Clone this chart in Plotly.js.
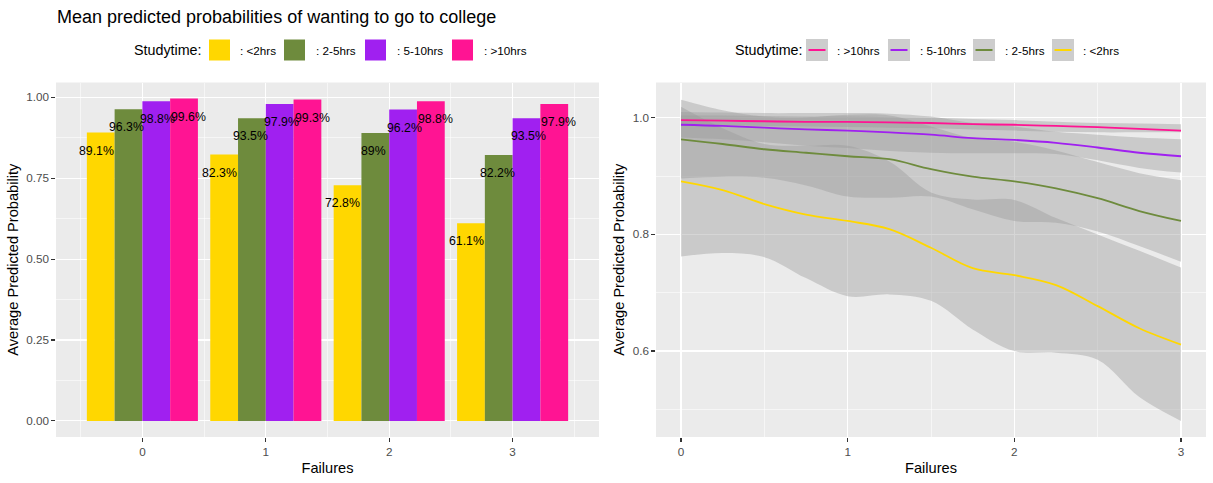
<!DOCTYPE html>
<html><head><meta charset="utf-8">
<script src="https://cdn.plot.ly/plotly-3.0.1.min.js"></script>
<style>html,body{margin:0;padding:0;background:#fff}#chart{width:1213px;height:483px}</style>
</head><body><div id="chart"></div>
<script>
// ---------------- data ----------------
const failures = [0, 1, 2, 3];
const studyNames = ['<2hrs', '2-5hrs', '5-10hrs', '>10hrs'];
const studyColors = ['#FFD700', '#6E8B3D', '#A020F0', '#FF1493'];

// mean predicted probabilities (bar panel)
const probLt2   = [0.891, 0.823, 0.728, 0.611];
const prob2to5  = [0.963, 0.935, 0.890, 0.822];
const prob5to10 = [0.988, 0.979, 0.962, 0.935];
const probGt10  = [0.996, 0.993, 0.988, 0.979];

// smoothed curves with ribbons (line panel)
const failureGrid = [0, 0.25, 0.5, 0.75, 1, 1.25, 1.5, 1.75, 2, 2.25, 2.5, 2.75, 3];
const lineLt2   = [0.891, 0.876, 0.852, 0.834, 0.823, 0.809, 0.777, 0.742, 0.730, 0.713, 0.677, 0.639, 0.611];
const lowLt2    = [0.762, 0.768, 0.761, 0.725, 0.694, 0.697, 0.686, 0.637, 0.600, 0.597, 0.585, 0.521, 0.480];
const highLt2   = [1.019, 0.982, 0.955, 0.952, 0.952, 0.925, 0.872, 0.860, 0.859, 0.828, 0.800, 0.772, 0.743];
const line2to5  = [0.963, 0.955, 0.946, 0.940, 0.934, 0.929, 0.912, 0.899, 0.891, 0.879, 0.862, 0.840, 0.823];
const low2to5   = [0.896, 0.899, 0.897, 0.884, 0.865, 0.863, 0.865, 0.843, 0.823, 0.820, 0.805, 0.780, 0.753];
const high2to5  = [1.031, 1.013, 1.002, 1.001, 1.005, 1.004, 0.985, 0.965, 0.959, 0.944, 0.924, 0.905, 0.893];
const line5to10 = [0.988, 0.986, 0.983, 0.980, 0.978, 0.975, 0.971, 0.965, 0.962, 0.957, 0.949, 0.940, 0.934];
const low5to10  = [0.966, 0.963, 0.958, 0.952, 0.948, 0.943, 0.940, 0.939, 0.939, 0.938, 0.927, 0.914, 0.906];
const high5to10 = [1.010, 1.009, 1.008, 1.008, 1.008, 1.007, 1.002, 0.991, 0.985, 0.976, 0.971, 0.966, 0.963];
const lineGt10  = [0.996, 0.995, 0.994, 0.993, 0.993, 0.992, 0.991, 0.989, 0.988, 0.986, 0.984, 0.981, 0.978];
const lowGt10   = [0.987, 0.987, 0.986, 0.985, 0.984, 0.983, 0.982, 0.980, 0.978, 0.976, 0.975, 0.975, 0.975];
const highGt10  = [1.004, 1.004, 1.003, 1.002, 1.002, 1.001, 1.000, 0.998, 0.996, 0.993, 0.991, 0.990, 0.989];

const yTicksBar = [0, 0.25, 0.5, 0.75, 1];
const yTickTextBar = ['0.00', '0.25', '0.50', '0.75', '1.00'];
const yTicksLine = [0.6, 0.8, 1.0];
const yTickTextLine = ['0.6', '0.8', '1.0'];

// ---------------- layout constants ----------------
const W = 1213, H = 483;
const FONT = 'Liberation Sans, Arial, sans-serif';
const px = x => x / W;
const py = y => 1 - y / H;
const dodgeText = [-0.375, -0.125, 0.125, 0.375];

const barSeries = [probLt2, prob2to5, prob5to10, probGt10];
const lineSeries = [
  {mid: lineLt2, lo: lowLt2, hi: highLt2},
  {mid: line2to5, lo: low2to5, hi: high2to5},
  {mid: line5to10, lo: low5to10, hi: high5to10},
  {mid: lineGt10, lo: lowGt10, hi: highGt10}
];

const traces = [];
barSeries.forEach((vals, i) => {
  traces.push({
    type: 'bar', x: failures, y: vals, name: studyNames[i],
    marker: {color: studyColors[i], line: {width: 0}},
    xaxis: 'x', yaxis: 'y', showlegend: false, hoverinfo: 'skip'
  });
});
const ribbonFill = 'rgba(153,153,153,0.4)';
lineSeries.forEach((s, i) => {
  traces.push({type: 'scatter', mode: 'lines', x: failureGrid, y: s.lo, line: {width: 0, shape: 'spline'},
    xaxis: 'x2', yaxis: 'y2', showlegend: false, hoverinfo: 'skip'});
  traces.push({type: 'scatter', mode: 'lines', x: failureGrid, y: s.hi, line: {width: 0, shape: 'spline'},
    fill: 'tonexty', fillcolor: ribbonFill, xaxis: 'x2', yaxis: 'y2', showlegend: false, hoverinfo: 'skip'});
});
lineSeries.forEach((s, i) => {
  traces.push({type: 'scatter', mode: 'lines', x: failureGrid, y: s.mid, name: studyNames[i],
    line: {color: studyColors[i], width: 1.8, shape: 'spline'},
    xaxis: 'x2', yaxis: 'y2', showlegend: false, hoverinfo: 'skip'});
});

// value labels on bars
const annotations = [];
barSeries.forEach((vals, i) => {
  vals.forEach((v, j) => {
    annotations.push({
      xref: 'x', yref: 'y', x: failures[j] + dodgeText[i], y: v,
      text: (Math.round(v * 1000) / 10) + '%', showarrow: false,
      yshift: -18, xanchor: 'center', yanchor: 'middle',
      font: {family: FONT, size: 12.3, color: '#000'}
    });
  });
});

// manual legends (ggplot style)
const shapes = [];
const legY = 50;
const leftLeg = {title: 132, keys: [209, 284, 365, 452], labels: [238, 314, 395, 482], size: 21};
annotations.push({xref: 'paper', yref: 'paper', x: px(leftLeg.title), y: py(legY), xanchor: 'left', yanchor: 'middle',
  text: 'Studytime:', showarrow: false, font: {family: FONT, size: 14.3, color: '#000'}});
studyNames.forEach((n, i) => {
  shapes.push({type: 'rect', xref: 'paper', yref: 'paper', x0: px(leftLeg.keys[i]), x1: px(leftLeg.keys[i] + leftLeg.size),
    y0: py(legY - leftLeg.size / 2), y1: py(legY + leftLeg.size / 2), fillcolor: studyColors[i], line: {width: 0}});
  annotations.push({xref: 'paper', yref: 'paper', x: px(leftLeg.labels[i]), y: py(legY), xanchor: 'left', yanchor: 'middle',
    text: ': ' + n, showarrow: false, font: {family: FONT, size: 11.7, color: '#000'}});
});
const rightOrder = [3, 2, 1, 0];
const rightLeg = {title: 733, keys: [806, 888, 973, 1052], labels: [835, 918, 1003, 1081], size: 22};
annotations.push({xref: 'paper', yref: 'paper', x: px(rightLeg.title), y: py(legY), xanchor: 'left', yanchor: 'middle',
  text: 'Studytime:', showarrow: false, font: {family: FONT, size: 14.3, color: '#000'}});
rightOrder.forEach((si, k) => {
  const kx = rightLeg.keys[k];
  shapes.push({type: 'rect', xref: 'paper', yref: 'paper', x0: px(kx), x1: px(kx + rightLeg.size),
    y0: py(legY - rightLeg.size / 2), y1: py(legY + rightLeg.size / 2), fillcolor: '#CDCDCD', line: {width: 0}});
  shapes.push({type: 'line', xref: 'paper', yref: 'paper', x0: px(kx + 2.5), x1: px(kx + rightLeg.size - 2.5),
    y0: py(legY), y1: py(legY), line: {color: studyColors[si], width: 2}});
  annotations.push({xref: 'paper', yref: 'paper', x: px(rightLeg.labels[k]), y: py(legY), xanchor: 'left', yanchor: 'middle',
    text: ': ' + studyNames[si], showarrow: false, font: {family: FONT, size: 11.7, color: '#000'}});
});

const tickFont = {family: FONT, size: 11.7, color: '#4D4D4D'};
const titleFont = {family: FONT, size: 14.6, color: '#000'};
const commonAx = {
  showgrid: true, gridcolor: '#FFFFFF', gridwidth: 1.1, zeroline: false, showline: false,
  ticks: 'outside', ticklen: 3.6, tickwidth: 1.07, tickcolor: '#333333', tickfont: tickFont,
  fixedrange: true
};
const minorGrid = vals => ({tickmode: 'array', tickvals: vals, showgrid: true, gridcolor: '#FFFFFF', gridwidth: 0.55, ticks: ''});

const yDomain = [(H - 437) / H, (H - 82.5) / H];
const layout = {
  width: W, height: H,
  margin: {l: 0, r: 0, t: 0, b: 0},
  paper_bgcolor: '#FFFFFF', plot_bgcolor: '#EBEBEB',
  font: {family: FONT},
  title: {text: 'Mean predicted probabilities of wanting to go to college', x: px(57), xanchor: 'left',
    y: py(17), yanchor: 'middle', font: {family: FONT, size: 18, color: '#000'}},
  barmode: 'group', bargap: 0.1, bargroupgap: 0,
  xaxis: Object.assign({}, commonAx, {domain: [px(56), px(599)], range: [-0.70, 3.70],
    tickmode: 'array', tickvals: failures, ticktext: failures.map(String),
    minor: minorGrid([-0.5, 0.5, 1.5, 2.5, 3.5]),
    title: {text: 'Failures', font: titleFont, standoff: 6}, anchor: 'y'}),
  yaxis: Object.assign({}, commonAx, {domain: yDomain, range: [-0.0498, 1.0458],
    tickmode: 'array', tickvals: yTicksBar, ticktext: yTickTextBar,
    minor: minorGrid([0.125, 0.375, 0.625, 0.875]),
    title: {text: 'Average Predicted Probability', font: titleFont, standoff: 4}, anchor: 'x'}),
  xaxis2: Object.assign({}, commonAx, {domain: [px(656), px(1206)], range: [-0.15, 3.15],
    tickmode: 'array', tickvals: failures, ticktext: failures.map(String),
    minor: minorGrid([0.5, 1.5, 2.5]),
    title: {text: 'Failures', font: titleFont, standoff: 6}, anchor: 'y2'}),
  yaxis2: Object.assign({}, commonAx, {domain: yDomain, range: [0.4525, 1.0605],
    tickmode: 'array', tickvals: yTicksLine, ticktext: yTickTextLine,
    minor: minorGrid([0.5, 0.7, 0.9]),
    title: {text: 'Average Predicted Probability', font: titleFont, standoff: 4}, anchor: 'x2'}),
  annotations: annotations,
  shapes: shapes,
  showlegend: false
};

Plotly.newPlot('chart', traces, layout, {displayModeBar: false, staticPlot: true});
</script>
</body></html>
